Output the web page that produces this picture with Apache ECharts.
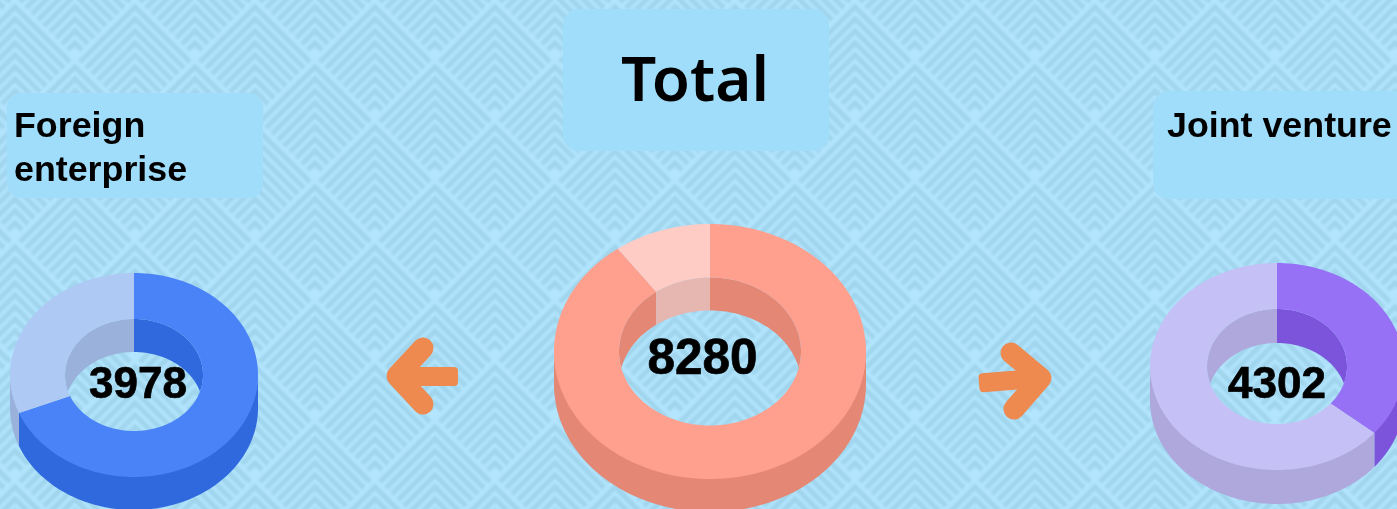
<!DOCTYPE html>
<html>
<head>
<meta charset="utf-8">
<style>html,body{margin:0;padding:0;background:#b5e6ff;overflow:hidden}#c{width:1397px;height:509px}</style>
<script src="https://cdn.jsdelivr.net/npm/echarts@6/dist/echarts.min.js"></script>
</head>
<body>
<div id="c"></div>
<script>
// ---- data ----
const foreignParts = [2741, 1237];
const totalParts = [7446, 834];
const jointParts = [1553, 2749];
const totalLabels = ['3978', '8280', '4302'];
const boxTitles = ['Foreign\nenterprise', 'Total', 'Joint venture'];

// ---- styles ----
const donuts = [
  {parts: foreignParts, cx: 134, cy: 375, rx: 124, ry: 102, ix: 69, iy: 56, d: 33,
   top: ['#4a82f7', '#afc9f5'], wall: ['#2f69dd', '#9ab1db'], tx: 138, ty: 386, fs: 44},
  {parts: totalParts, cx: 710, cy: 351.5, rx: 156, ry: 127.5, ix: 91, iy: 74, d: 33,
   top: ['#ff9f8e', '#ffccc5'], wall: ['#e48875', '#e6b6b0'], tx: 702.5, ty: 360, fs: 49.5},
  {parts: jointParts, cx: 1277, cy: 366.5, rx: 127, ry: 103.5, ix: 70, iy: 57.5, d: 34,
   top: ['#9670f5', '#c5c0f5'], wall: ['#7c54dc', '#aea8dc'], tx: 1277, ty: 386, fs: 44}
];
const rad = Math.PI / 180;

function makeTile() {
  const S = 120, c = document.createElement('canvas');
  c.width = S; c.height = S;
  const g = c.getContext('2d');
  g.fillStyle = '#b3e5fe'; g.fillRect(0, 0, S, S);
  g.filter = 'blur(1.3px)';
  g.strokeStyle = '#a0d5ed'; g.lineWidth = 5.2; g.lineCap = 'butt'; g.lineJoin = 'miter';
  const peaks = [[75, 63], [15, 3]];
  for (const [px, py] of peaks) for (let ox = -S; ox <= S; ox += S) for (let oy = -S; oy <= S; oy += S) {
    for (let k = 0; k < 9; k++) {
      const p = 4 + 12 * k, a = (120 - p) / 2 - 3;
      if (a < 2) continue;
      g.beginPath();
      g.moveTo(px + ox - a, py + oy + p + a);
      g.lineTo(px + ox, py + oy + p);
      g.lineTo(px + ox + a, py + oy + p + a);
      g.stroke();
    }
  }
  return c;
}

function renderSlice(D) {
  const sum = D.parts.reduce((s, v) => s + v, 0);
  const T = Math.acos(-D.d / (2 * D.iy)) / rad;
  return function (params, api) {
    const i = params.dataIndex;
    let before = 0;
    for (let k = 0; k < i; k++) before += D.parts[k];
    const a0 = before / sum * 360, a1 = (before + api.value(0)) / sum * 360;
    const O = t => [D.cx + D.rx * Math.sin(t * rad), D.cy - D.ry * Math.cos(t * rad)];
    const I = t => [D.cx + D.ix * Math.sin(t * rad), D.cy - D.iy * Math.cos(t * rad)];
    const range = (s, e) => { const r = []; for (let t = s; t < e; t += 1) r.push(t); r.push(e); return r; };
    const children = [];
    // outer wall: front half
    const s1 = Math.max(a0, 90), e1 = Math.min(a1, 270);
    if (e1 > s1) {
      const ts = range(s1, e1);
      const pts = ts.map(t => { const p = O(t); return [p[0], p[1] - 2]; })
        .concat(ts.slice().reverse().map(t => { const p = O(t); return [p[0], p[1] + D.d]; }));
      children.push({type: 'polygon', z2: 1, shape: {points: pts}, style: {fill: D.wall[i]}});
    }
    // inner wall: back part seen through the hole
    [[0, T], [360 - T, 360]].forEach(([vs, ve]) => {
      const s = Math.max(a0, vs), e = Math.min(a1, ve);
      if (e <= s) return;
      const ts = range(s, e);
      const pts = ts.map(t => I(t))
        .concat(ts.slice().reverse().map(t => [I(t)[0], D.cy + D.d - D.iy * Math.abs(Math.cos(t * rad))]));
      children.push({type: 'polygon', z2: 1, shape: {points: pts}, style: {fill: D.wall[i]}});
    });
    // top face
    const ts = range(a0, a1);
    const face = ts.map(O).concat(ts.slice().reverse().map(I));
    children.push({type: 'polygon', z2: 2, shape: {points: face}, style: {fill: D.top[i]}});
    return {type: 'group', children};
  };
}

const series = donuts.map(D => ({
  type: 'custom',
  coordinateSystem: 'none',
  silent: true,
  animation: false,
  clip: false,
  data: D.parts.map(v => [v]),
  renderItem: renderSlice(D)
}));

const boxStyle = {fill: '#a0ddfa'};
const arrowColor = '#ee8a4f';
const arrow = pts => ({
  type: 'polyline', silent: true, z: 5,
  shape: {points: pts},
  style: {stroke: arrowColor, lineWidth: 21, fill: null, lineCap: 'round', lineJoin: 'round'}
});
const sans = 'Liberation Sans, Arial, sans-serif';
const text = (x, y, t, o) => ({
  type: 'text', silent: true, z: 10, x, y,
  style: Object.assign({text: t, fill: '#000', fontFamily: sans, fontWeight: 'bold'}, o)
});

const graphic = [
  {type: 'rect', silent: true, z: 1, shape: {x: 7, y: 93, width: 256, height: 105, r: 15}, style: boxStyle},
  {type: 'rect', silent: true, z: 1, shape: {x: 563, y: 9, width: 266, height: 142, r: 16}, style: boxStyle},
  {type: 'rect', silent: true, z: 1, shape: {x: 1153, y: 91, width: 260, height: 108, r: 16}, style: boxStyle},
  text(14, 105, boxTitles[0], {fontSize: 35.8, lineHeight: 44}),
  text(695, 83, boxTitles[1], {fontSize: 62, fontWeight: 600, fontFamily: 'Noto Sans', align: 'center', verticalAlign: 'middle'}),
  text(1167, 105, boxTitles[2], {fontSize: 35.8, lineHeight: 44}),
  arrow([[423, 348], [397, 376], [423, 404]]),
  {type: 'rect', silent: true, z: 5, shape: {x: 400, y: 367, width: 58, height: 19, r: 4}, style: {fill: arrowColor}},
  arrow([[1011, 353], [1041, 378], [1014, 409]]),
  {type: 'rect', silent: true, z: 5, x: 979, y: 373.5, originX: 0, originY: 9.5, rotation: 4.7 * rad,
   shape: {x: 0, y: 0, width: 60, height: 19, r: 4}, style: {fill: arrowColor}}
].concat(donuts.map((D, i) => text(D.tx, D.ty, totalLabels[i], {fontSize: D.fs, align: 'center', verticalAlign: 'middle', stroke: '#000', lineWidth: 0.7})));

const chart = echarts.init(document.getElementById('c'), null, {renderer: 'canvas'});
chart.setOption({
  animation: false,
  backgroundColor: {image: makeTile(), repeat: 'repeat'},
  series,
  graphic: {elements: graphic}
});
</script>
</body>
</html>
